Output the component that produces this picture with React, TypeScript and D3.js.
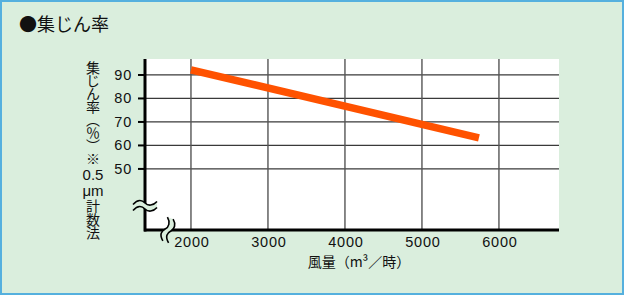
import React from "react";
import * as d3 from "d3";

const W = 626;
const H = 296;

// data
const xTicks = [2000, 3000, 4000, 5000, 6000];
const yTicks = [50, 60, 70, 80, 90];
const lineX = [2000, 5740];
const lineY = [92.2, 63.2];
const title = "●集じん率";
const xTitle = "風量（m³／時）";
const yTitleTop = "集じん率（％）※";
const yTitleMid = ["0.5", "μm"];
const yTitleBottom = "計数法";

const BG = "#daeedd";
const BORDER = "#55b0de";
const LINE = "#ff5200";
const CJK = "'Noto Sans CJK JP', 'Noto Sans', sans-serif";
const LAT = "'Liberation Sans', Arial, Helvetica, sans-serif";

export default function App() {
  const plot = { left: 144, right: 559, top: 59, bottom: 230 };
  const x = d3.scaleLinear().domain([1390, 6780]).range([plot.left, plot.right]);
  const y = d3.scaleLinear().domain([24, 96.8]).range([plot.bottom, plot.top]);
  const pts: [number, number][] = lineX.map((v, i) => [v, lineY[i]]);
  const lineGen = d3
    .line<[number, number]>()
    .x((d) => x(d[0]))
    .y((d) => y(d[1]));

  const axisX = x(1390) + 1;
  const tilde = (cx: number, cy: number) =>
    `M${cx - 12},${cy + 1.5} C${cx - 7},${cy - 4} ${cx - 3},${cy - 3} ${cx},${cy} S${cx + 8},${cy + 3} ${cx + 12},${cy - 1.5}`;
  const band = (cx: number, cy1: number, cy2: number) =>
    `M${cx - 12},${cy1 + 1.5} C${cx - 7},${cy1 - 4} ${cx - 3},${cy1 - 3} ${cx},${cy1} S${cx + 8},${cy1 + 3} ${cx + 12},${cy1 - 1.5} L${cx + 12},${cy2 - 1.5} C${cx + 8},${cy2 + 3} ${cx + 3},${cy2 + 3} ${cx},${cy2} S${cx - 7},${cy2 - 4} ${cx - 12},${cy2 + 1.5} Z`;

  const ybCx = axisX;
  const ybCy = 203;
  const xbCx = 168;
  const xbCy = plot.bottom;

  const vStyle: React.CSSProperties = { writingMode: "vertical-rl" as any };

  return (
    <svg
      width={W}
      height={H}
      style={{ position: "absolute", left: 0, top: 0 }}
      xmlns="http://www.w3.org/2000/svg"
    >
      <rect x={0} y={0} width={W} height={H} fill="#ffffff" />
      <rect x={1} y={1} width={622} height={293} fill={BG} stroke={BORDER} strokeWidth={2} />

      <text x={19} y={23} dominantBaseline="central" fontFamily={CJK} fontSize={18} fill="#111">
        {title}
      </text>

      {/* plot area */}
      <rect x={plot.left} y={plot.top} width={plot.right - plot.left} height={plot.bottom - plot.top} fill="#ffffff" />

      {yTicks.map((t) => (
        <line key={"gy" + t} x1={plot.left} x2={plot.right} y1={y(t)} y2={y(t)} stroke="#3a3a3a" strokeWidth={1.2} />
      ))}
      {xTicks.map((t) => (
        <line key={"gx" + t} x1={x(t)} x2={x(t)} y1={plot.top} y2={plot.bottom} stroke="#555" strokeWidth={1.4} />
      ))}

      <path d={lineGen(pts) || ""} fill="none" stroke={LINE} strokeWidth={7.5} strokeLinecap="butt" />

      {/* axes */}
      <line x1={axisX} x2={axisX} y1={plot.top} y2={plot.bottom + 1.5} stroke="#000" strokeWidth={3} />
      <line x1={plot.left} x2={plot.right} y1={plot.bottom} y2={plot.bottom} stroke="#000" strokeWidth={3} />
      {yTicks.map((t) => (
        <line key={"ty" + t} x1={axisX - 7} x2={axisX} y1={y(t)} y2={y(t)} stroke="#000" strokeWidth={2} />
      ))}

      {/* y break */}
      <path d={band(ybCx, ybCy, ybCy + 6)} fill={BG} stroke="none" />
      <path d={tilde(ybCx, ybCy)} fill="none" stroke="#000" strokeWidth={1.6} />
      <path d={tilde(ybCx, ybCy + 6)} fill="none" stroke="#000" strokeWidth={1.6} />

      {/* x break */}
      <g transform={`translate(${xbCx},${xbCy}) rotate(-72) translate(${-xbCx},${-xbCy})`}>
        <path d={band(xbCx, xbCy - 3, xbCy + 3)} fill={BG} stroke="none" />
        <path d={tilde(xbCx, xbCy - 3)} fill="none" stroke="#000" strokeWidth={1.6} />
        <path d={tilde(xbCx, xbCy + 3)} fill="none" stroke="#000" strokeWidth={1.6} />
      </g>

      {/* tick labels */}
      {yTicks.map((t) => (
        <text
          key={"ly" + t}
          x={132}
          y={y(t)}
          textAnchor="end"
          dominantBaseline="central"
          fontFamily={LAT}
          fontSize={14.5}
          letterSpacing={0.8}
          fill="#111"
        >
          {t}
        </text>
      ))}
      {xTicks.map((t) => (
        <text
          key={"lx" + t}
          x={x(t) + 1}
          y={242}
          textAnchor="middle"
          dominantBaseline="central"
          fontFamily={LAT}
          fontSize={14.5}
          letterSpacing={0.8}
          fill="#111"
        >
          {t}
        </text>
      ))}

      <text x={359} y={261} textAnchor="middle" dominantBaseline="central" fontFamily={CJK} fontSize={14} fill="#111">
        {xTitle}
      </text>

      {/* vertical y title */}
      <text x={93} y={61} style={vStyle} fontFamily={CJK} fontSize={14} letterSpacing={-1} fill="#111">
        {yTitleTop}
      </text>
      {yTitleMid.map((s, i) => (
        <text
          key={"ym" + i}
          x={93}
          y={174 + i * 16}
          textAnchor="middle"
          dominantBaseline="central"
          fontFamily={LAT}
          fontSize={15}
          fill="#111"
        >
          {s}
        </text>
      ))}
      <text x={93} y={199} style={vStyle} fontFamily={CJK} fontSize={14} letterSpacing={-0.5} fill="#111">
        {yTitleBottom}
      </text>
    </svg>
  );
}
